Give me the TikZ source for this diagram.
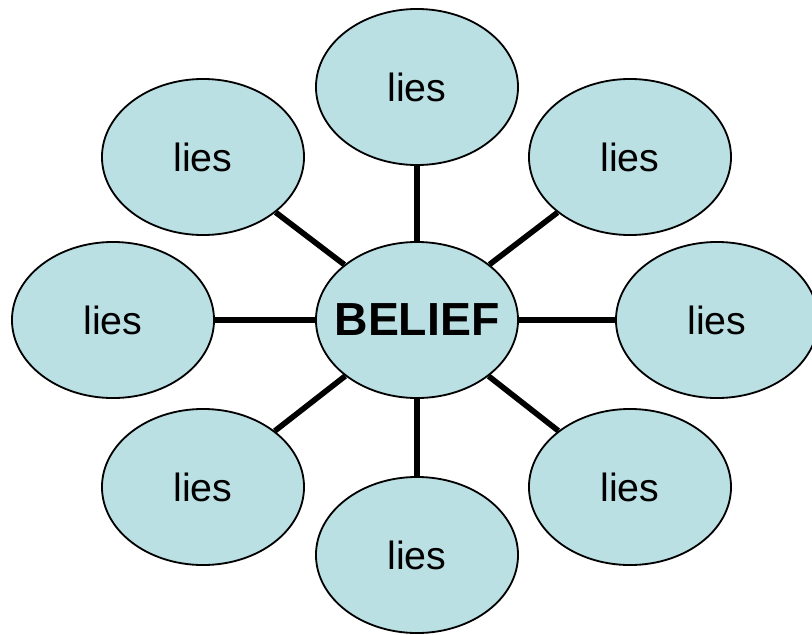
\documentclass[tikz,border=0pt]{standalone}
\usepackage{fontspec}
\setmainfont{Liberation Sans}
\usepackage{xcolor}
\definecolor{bubblecyan}{HTML}{BAE0E4}
\usetikzlibrary{shapes.geometric, backgrounds}

\begin{document}
\begin{tikzpicture}[x=0.025cm, y=-0.025cm,
    bubble/.style={ellipse, draw=black, line width=1.3pt, fill=bubblecyan,
      minimum width=5.05cm, minimum height=3.9cm, inner sep=0pt},
    spoke/.style={line width=4pt}]
  \useasboundingbox (0,0) rectangle (812,634);
  % centre
  \node[bubble, inner xsep=-0.45cm, font=\fontsize{33}{36}\selectfont\bfseries] (belief) at (417,320) {BELIEF};
  % outer ring
  \foreach \nm/\x/\y in {top/417/87, topright/630/157, right/717/320, botright/630/487,
                         bottom/417/555, botleft/203/487, left/113/320, topleft/203/157}{
    \node[bubble, font=\fontsize{28}{32}\selectfont] (\nm) at (\x,\y) {lies};
  }
  % spokes
  \begin{scope}[on background layer]
    \foreach \nm in {top, topright, right, botright, bottom, botleft, left, topleft}{
      \draw[spoke] (belief) -- (\nm);
    }
  \end{scope}
\end{tikzpicture}
\end{document}
